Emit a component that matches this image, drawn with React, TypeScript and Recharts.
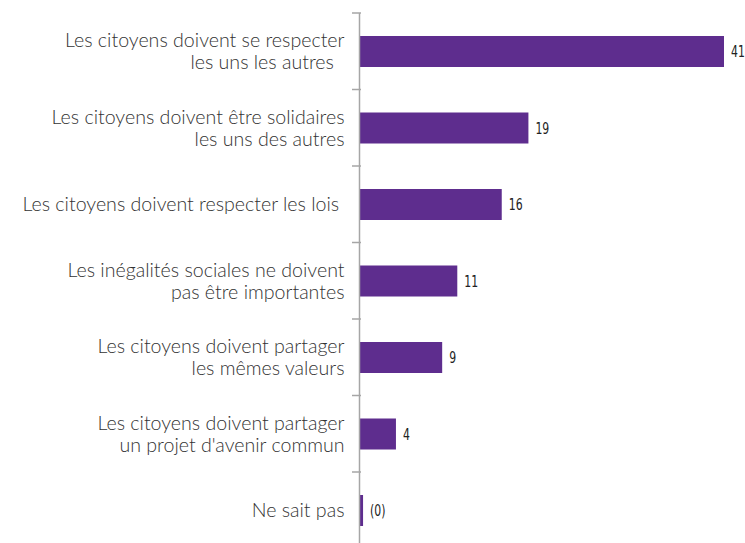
import { BarChart, Bar, XAxis, YAxis, LabelList } from 'recharts';

const categories = [
  'Les citoyens doivent se respecter\nles uns les autres\u00a0\u00a0',
  'Les citoyens doivent être solidaires\nles uns des autres',
  'Les citoyens doivent respecter les lois\u00a0',
  'Les inégalités sociales ne doivent\npas être importantes',
  'Les citoyens doivent partager\nles mêmes valeurs',
  'Les citoyens doivent partager\nun projet d\'avenir commun',
  'Ne sait pas',
];
const values = [41, 19, 16, 11, 9.3, 4.1, 0.4];
const valueLabels = ['41', '19', '16', '11', '9', '4', '(0)'];

const data = categories.map((name, i) => ({ name, value: values[i], label: valueLabels[i] }));

const BAND = 76.5;

function CategoryTick(props: any) {
  const { x, y, payload } = props;
  const lines = String(payload.value).split('\n');
  const lh = 22;
  const startY = y - ((lines.length - 1) * lh) / 2;
  return (
    <g>
      <line x1={x + 0.5} x2={x + 9.5} y1={y - BAND / 2} y2={y - BAND / 2} stroke="#a6a6a6" strokeWidth={1.5} />
      <text
        textAnchor="end"
        fill="#333"
        fontFamily="Lato, 'Open Sans', sans-serif"
        fontWeight={300}
        fontSize={19.6}
      >
        {lines.map((ln, i) => (
          <tspan key={i} x={x - 7} y={startY + i * lh} dy="0.36em">
            {ln}
          </tspan>
        ))}
      </text>
    </g>
  );
}

// narrow value label, squeezed horizontally like the condensed face in the original
function ValueLabel(props: any) {
  const { x, y, width, height, value } = props;
  const lx = Number(x) + Number(width) + 7;
  const ly = Number(y) + Number(height) / 2;
  return (
    <text
      x={0}
      y={0}
      dy="0.36em"
      transform={`translate(${lx},${ly}) scale(0.66,1)`}
      fill="#222"
      fontFamily="'DejaVu Sans', sans-serif"
      fontWeight={500}
      fontSize={16.5}
    >
      {value}
    </text>
  );
}

export default function App() {
  return (
    <div style={{ position: 'fixed', left: 0, top: 0, width: 745, height: 543, overflow: 'hidden', background: '#fff' }}>
      <BarChart
        layout="vertical"
        width={745}
        height={560}
        data={data}
        margin={{ top: 13, right: 21, bottom: 11.5, left: 0 }}
      >
        <XAxis type="number" domain={[0, 41]} hide />
        <YAxis
          type="category"
          dataKey="name"
          width={359.5}
          axisLine={{ stroke: '#a6a6a6', strokeWidth: 1.5 }}
          tickLine={false}
          tick={<CategoryTick />}
          interval={0}
        />
        <Bar dataKey="value" fill="#5e2d8e" barSize={31} isAnimationActive={false}>
          <LabelList dataKey="label" content={<ValueLabel />} />
        </Bar>
      </BarChart>
    </div>
  );
}
